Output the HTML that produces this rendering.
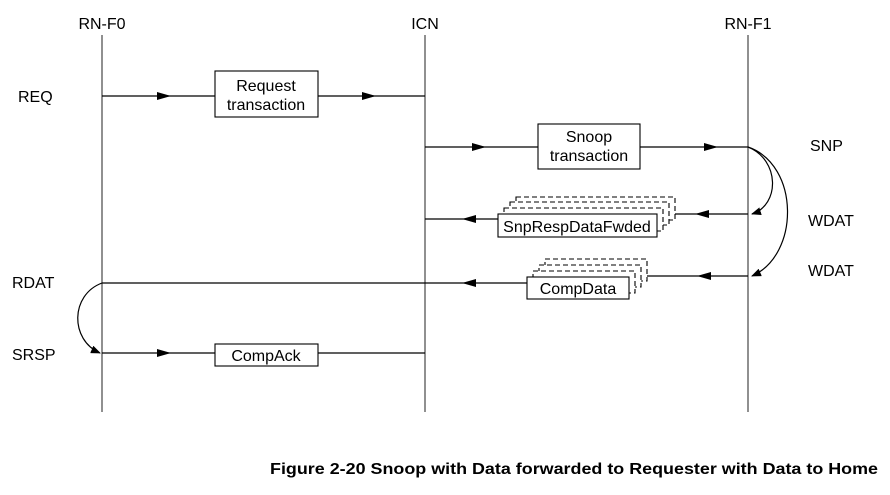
<!DOCTYPE html>
<html><head><style>body{margin:0;background:#fff}</style></head><body>
<svg width="890" height="490" viewBox="0 0 890 490" xmlns="http://www.w3.org/2000/svg" font-family="Liberation Sans, sans-serif" font-size="16">
<defs><marker id="a" markerWidth="14" markerHeight="8" refX="7" refY="4" orient="auto" markerUnits="userSpaceOnUse"><path d="M0,0L14,4L0,8z" fill="#000"/></marker>
<marker id="e" markerWidth="10" markerHeight="8" refX="9" refY="4" orient="auto" markerUnits="userSpaceOnUse"><path d="M0,0L10,4L0,8z" fill="#000"/></marker></defs>
<g stroke="#555" stroke-width="1.3"><line x1="102" y1="35" x2="102" y2="412"/><line x1="425" y1="35" x2="425" y2="412"/><line x1="748" y1="35" x2="748" y2="412"/></g>
<g text-anchor="middle"><text x="102" y="29">RN-F0</text><text x="425" y="29">ICN</text><text x="748" y="29">RN-F1</text></g>
<g><text x="18" y="102">REQ</text><text x="810" y="151">SNP</text><text x="808" y="226">WDAT</text><text x="808" y="276">WDAT</text><text x="12" y="288">RDAT</text><text x="12" y="360">SRSP</text></g>
<g stroke="#000" stroke-width="1.2" fill="none">
<line x1="102" y1="96" x2="215" y2="96"/><line x1="318" y1="96" x2="425" y2="96"/>
<line x1="163" y1="96" x2="164" y2="96" marker-end="url(#a)"/><line x1="368" y1="96" x2="369" y2="96" marker-end="url(#a)"/>
<line x1="425" y1="147" x2="538" y2="147"/><line x1="640" y1="147" x2="748" y2="147"/>
<line x1="478" y1="147" x2="479" y2="147" marker-end="url(#a)"/><line x1="710" y1="147" x2="711" y2="147" marker-end="url(#a)"/>
<line x1="425" y1="219" x2="498" y2="219"/><line x1="470" y1="219" x2="469" y2="219" marker-end="url(#a)"/>
<line x1="672" y1="214" x2="748" y2="214"/><line x1="703" y1="214" x2="702" y2="214" marker-end="url(#a)"/>
<line x1="102" y1="283" x2="527" y2="283"/><line x1="470" y1="283" x2="469" y2="283" marker-end="url(#a)"/>
<line x1="645" y1="276" x2="748" y2="276"/><line x1="705" y1="276" x2="704" y2="276" marker-end="url(#a)"/>
<line x1="102" y1="353" x2="425" y2="353"/><line x1="163" y1="353" x2="164" y2="353" marker-end="url(#a)"/>
<path d="M748,147 C780,160 780,205 752,214" marker-end="url(#e)"/>
<path d="M748,147 C800,165 800,255 752,276" marker-end="url(#e)"/>
<path d="M102,283 C70,295 70,340 100,353" marker-end="url(#e)"/>
</g>
<g fill="#fff" stroke="#000" stroke-width="1.1">
<rect x="215" y="71" width="103" height="46"/><rect x="538" y="124" width="102" height="45"/>
<g stroke-dasharray="5,3"><rect x="516" y="197" width="159" height="23"/><rect x="510" y="202" width="159" height="23"/><rect x="504" y="208" width="159" height="23"/></g>
<rect x="498" y="214" width="159" height="23"/>
<g stroke-dasharray="5,3"><rect x="545" y="259" width="102" height="22"/><rect x="539" y="265" width="102" height="22"/><rect x="533" y="271" width="102" height="22"/></g>
<rect x="527" y="277" width="102" height="22"/>
<rect x="215" y="344" width="103" height="22"/>
</g>
<g text-anchor="middle">
<text x="266" y="91">Request</text><text x="266" y="110">transaction</text>
<text x="589" y="142">Snoop</text><text x="589" y="161">transaction</text>
<text x="577" y="232">SnpRespDataFwded</text><text x="578" y="294">CompData</text><text x="266" y="361">CompAck</text>
</g>
<text x="270" y="474" font-weight="bold" font-size="16" textLength="608" lengthAdjust="spacingAndGlyphs">Figure 2-20 Snoop with Data forwarded to Requester with Data to Home</text>
</svg>
</body></html>
